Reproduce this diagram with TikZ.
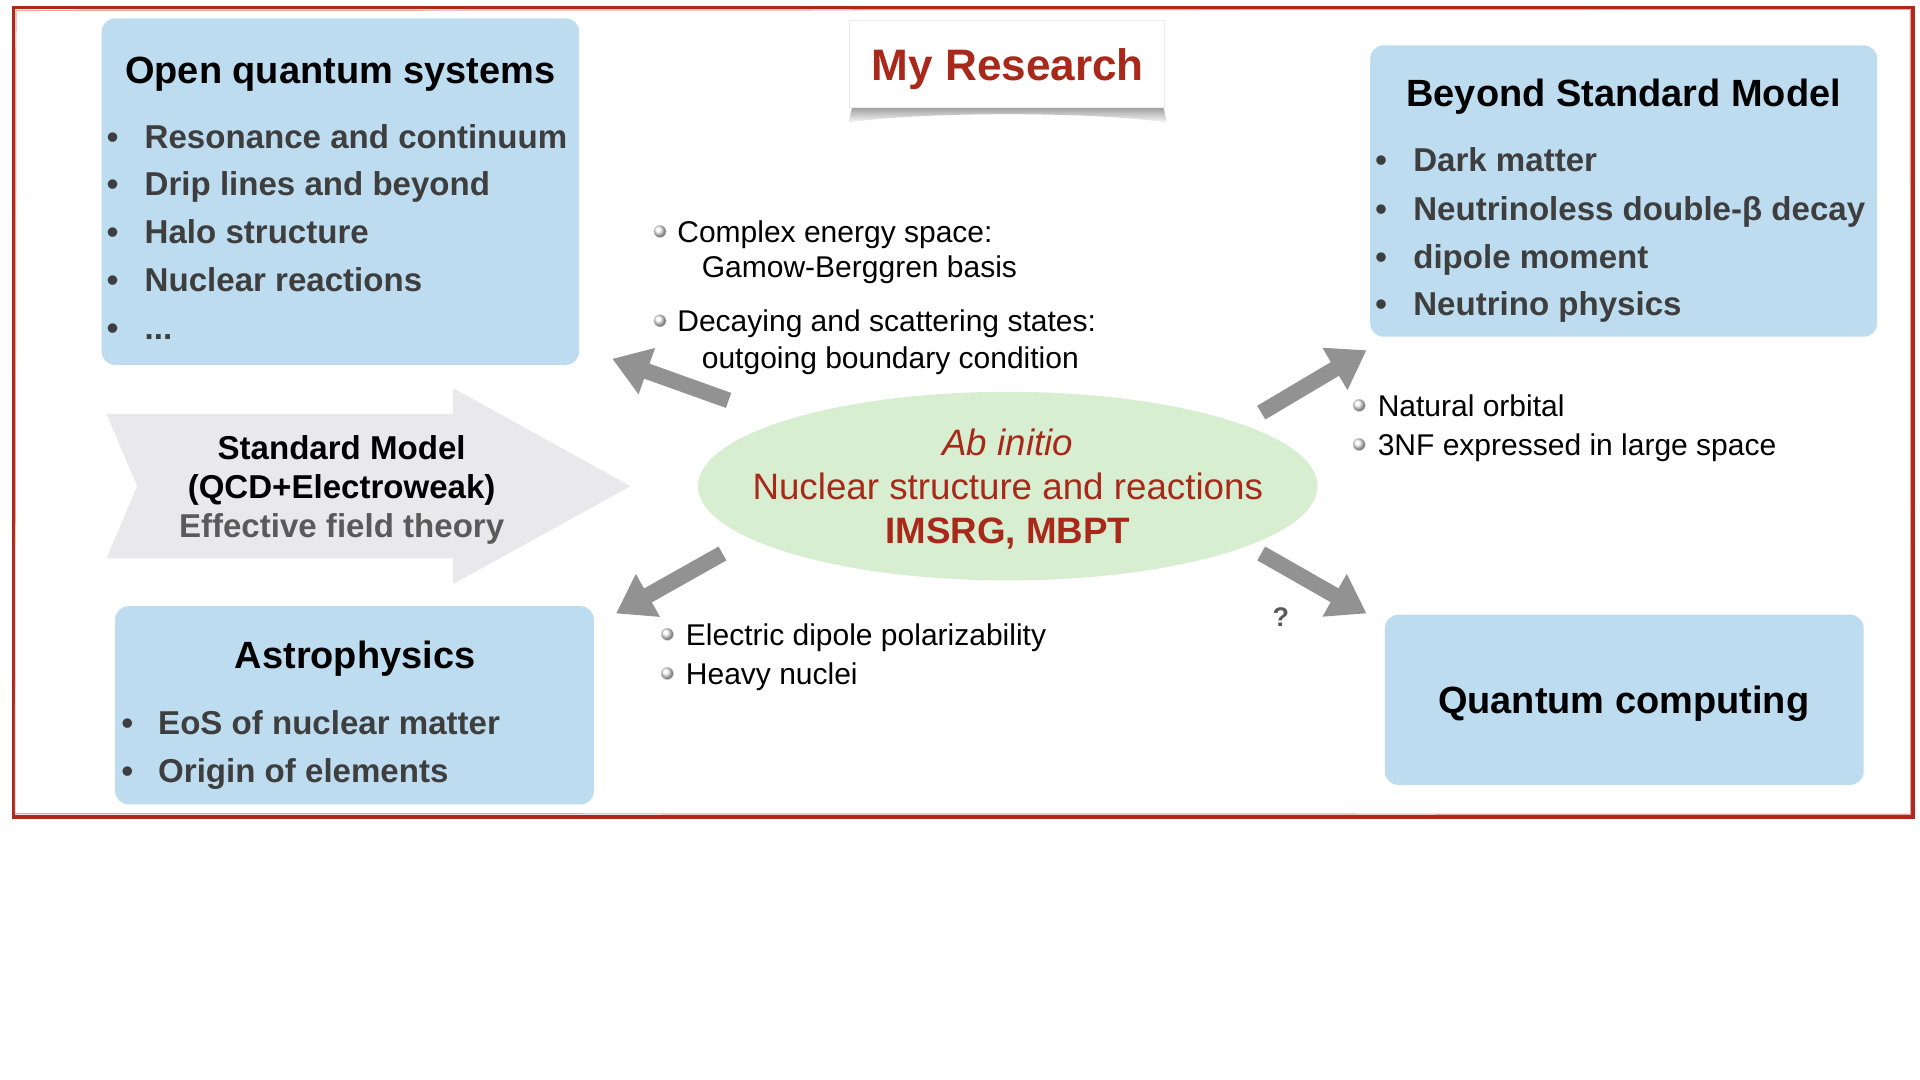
\documentclass[tikz,border=0pt]{standalone}
\usepackage{fontspec}
\setmainfont{Liberation Sans}
\usetikzlibrary{arrows.meta,shapes.geometric}
\definecolor{boxblue}{RGB}{189,220,240}
\definecolor{coregreen}{RGB}{216,238,208}
\definecolor{arrowgray}{RGB}{146,146,146}
\definecolor{stdgray}{RGB}{233,233,235}
\definecolor{resred}{RGB}{168,40,26}
\definecolor{framered}{RGB}{176,40,28}
\definecolor{itemgray}{RGB}{62,62,62}
\definecolor{eftgray}{RGB}{90,90,90}
\tikzset{
  bluebox/.style={fill=boxblue, rounded corners=11pt, inner sep=0pt},
  titletext/.style={anchor=base, inner sep=0pt, font=\fontsize{31}{36}\selectfont\bfseries, text=black},
  itemtext/.style={anchor=base west, inner sep=0pt, font=\fontsize{27}{32}\selectfont\bfseries, text=itemgray},
  dottext/.style={anchor=base, inner sep=0pt, font=\fontsize{27}{32}\selectfont\bfseries, text=itemgray},
  smalltext/.style={anchor=base west, inner sep=0pt, font=\fontsize{24.5}{29}\selectfont, text=black},
  ballmark/.style={circle, inner sep=0pt, minimum size=10pt, ball color=gray!8, draw=gray!35, line width=0.4pt},
  coretext/.style={anchor=base, inner sep=0pt, font=\fontsize{30}{35}\selectfont, text=resred},
  stdtext/.style={anchor=base, inner sep=0pt, font=\fontsize{27}{32}\selectfont\bfseries, text=black},
  fatarrow/.style={draw=arrowgray, line width=13pt, -{Triangle[length=30pt,width=38pt]}}
}
\begin{document}
\begin{tikzpicture}[x=1pt,y=-1pt]
\useasboundingbox (0,0) rectangle (1568,882);
\fill[white] (0,0) rectangle (1568,882);

% frame
\draw[framered, line width=3pt] (11,6) rectangle (1562,667);
\draw[framered!80, line width=1pt, opacity=0.5] (13,8.5) -- (1560,7.5) -- (1560.5,665) -- (12,664.5) -- cycle;

% Open quantum systems
\node[bluebox, minimum width=390pt, minimum height=283pt] (oqs) at (278,156.5) {};
\node[titletext] (oqsT) at (278,68) {Open quantum systems};
\node[dottext] (oqsB1) at (92,121) {•};
\node[itemtext] (oqs1) at (118,121) {Resonance and continuum};
\node[dottext] (oqsB2) at (92,160) {•};
\node[itemtext] (oqs2) at (118,160) {Drip lines and beyond};
\node[dottext] (oqsB3) at (92,199) {•};
\node[itemtext] (oqs3) at (118,199) {Halo structure};
\node[dottext] (oqsB4) at (92,238) {•};
\node[itemtext] (oqs4) at (118,238) {Nuclear reactions};
\node[dottext] (oqsB5) at (92,277) {•};
\node[itemtext] (oqs5) at (118,277) {...};

% Beyond Standard Model
\node[bluebox, minimum width=414pt, minimum height=238pt] (bsm) at (1326,156) {};
\node[titletext] (bsmT) at (1326,87) {Beyond Standard Model};
\node[dottext] (bsmB1) at (1128,140) {•};
\node[itemtext] (bsm1) at (1154,140) {Dark matter};
\node[dottext] (bsmB2) at (1128,180) {•};
\node[itemtext] (bsm2) at (1154,180) {Neutrinoless double-β decay};
\node[dottext] (bsmB3) at (1128,219) {•};
\node[itemtext] (bsm3) at (1154,219) {dipole moment};
\node[dottext] (bsmB4) at (1128,258) {•};
\node[itemtext] (bsm4) at (1154,258) {Neutrino physics};

% Astrophysics
\node[bluebox, minimum width=391pt, minimum height=162pt] (ast) at (289.5,576) {};
\node[titletext] (astT) at (290,546) {Astrophysics};
\node[dottext] (astB1) at (104,600) {•};
\node[itemtext] (ast1) at (129,600) {EoS of nuclear matter};
\node[dottext] (astB2) at (104,639) {•};
\node[itemtext] (ast2) at (129,639) {Origin of elements};

% Quantum computing
\node[bluebox, minimum width=391pt, minimum height=139pt] (qc) at (1326.5,571.5) {};
\node[titletext] (qcT) at (1326,583) {Quantum computing};

% My Research
\shade[top color=gray!80, bottom color=gray!5] (696,87) -- (950,87) -- (953,100) .. controls (890,91) and (756,91) .. (693,100) -- cycle;
\node[fill=white, draw=gray!15, line width=0.6pt, minimum width=257pt, minimum height=71pt, inner sep=0pt] (mr) at (822.5,52.5) {};
\node[anchor=base, inner sep=0pt, font=\fontsize{36}{40}\selectfont\bfseries, text=resred] (mrT) at (823,66) {My Research};

% Standard Model arrow
\fill[stdgray] (87,338) -- (370,338) -- (370,317) -- (515,397) -- (370,477) -- (370,456) -- (87,456) -- (112,397) -- cycle;
\node[stdtext] (sm1) at (279,375) {Standard Model};
\node[stdtext] (sm2) at (279,407) {(QCD+Electroweak)};
\node[stdtext, text=eftgray] (sm3) at (279,439) {Effective field theory};

% core ellipse
\node[ellipse, fill=coregreen, minimum width=506pt, minimum height=154pt, inner sep=0pt] (core) at (823,397) {};
\node[coretext, font=\fontsize{30}{35}\selectfont\itshape] (core1) at (823,372) {Ab initio};
\node[coretext] (core2) at (823,408) {Nuclear structure and reactions};
\node[coretext, font=\fontsize{30}{35}\selectfont\bfseries] (core3) at (823,444) {IMSRG, MBPT};

% arrows
\coordinate (a1s) at (595,327); \coordinate (a1e) at (500,293);
\coordinate (a2s) at (1030,337); \coordinate (a2e) at (1116,286);
\coordinate (a3s) at (590,452); \coordinate (a3e) at (503,501);
\coordinate (a4s) at (1030,452); \coordinate (a4e) at (1116,501);
\draw[fatarrow] (a1s) -- (a1e);
\draw[fatarrow] (a2s) -- (a2e);
\draw[fatarrow] (a3s) -- (a3e);
\draw[fatarrow] (a4s) -- (a4e);
\node[anchor=base, inner sep=0pt, font=\fontsize{22}{26}\selectfont\bfseries, text=eftgray] (qm) at (1046,512) {?};

% small notes
\node[ballmark] (n1b) at (539,189) {};
\node[smalltext] (n1) at (553,198) {Complex energy space:};
\node[smalltext] (n1x) at (573,227) {Gamow-Berggren basis};
\node[ballmark] (n2b) at (539,262) {};
\node[smalltext] (n2) at (553,271) {Decaying and scattering states:};
\node[smalltext] (n2x) at (573,301) {outgoing boundary condition};
\node[ballmark] (n3b) at (1110,331) {};
\node[smalltext] (n3) at (1125,340) {Natural orbital};
\node[ballmark] (n4b) at (1110,363) {};
\node[smalltext] (n4) at (1125,372) {3NF expressed in large space};
\node[ballmark] (n5b) at (545,518) {};
\node[smalltext] (n5) at (560,527) {Electric dipole polarizability};
\node[ballmark] (n6b) at (545,550) {};
\node[smalltext] (n6) at (560,559) {Heavy nuclei};
\end{tikzpicture}
\end{document}
